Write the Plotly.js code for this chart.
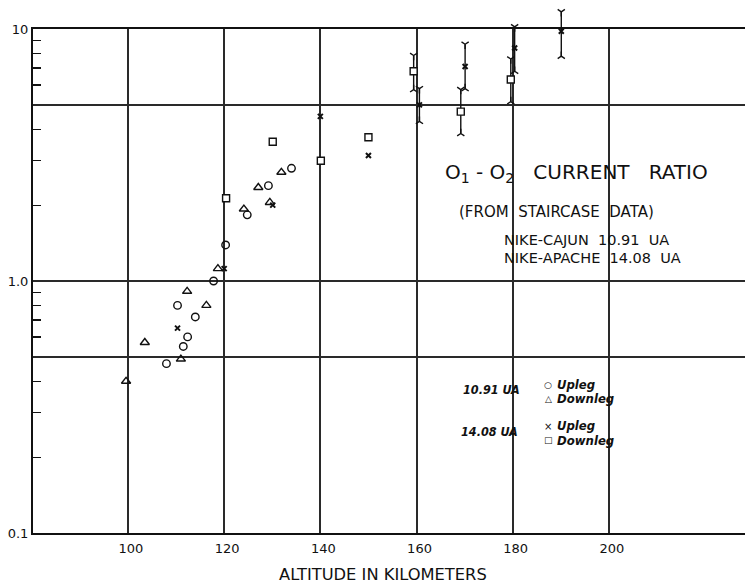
<!DOCTYPE html>
<html><head><meta charset="utf-8">
<script src="https://cdn.plot.ly/plotly-3.0.1.min.js"></script>
<style>body{margin:0;background:#fff}</style>
</head><body>
<div id="chart" style="width:748px;height:585px"></div>
<script>
// 10.91 UA (Nike-Cajun)
const cajunUpX   = [108, 110.3, 111.5, 112.4, 114, 117.8, 120.3, 124.8, 129.2, 134];
const cajunUpY   = [0.47, 0.80, 0.55, 0.60, 0.72, 1.0, 1.39, 1.83, 2.39, 2.80];
const cajunDownX = [99.6, 103.5, 111, 112.3, 116.3, 118.7, 124.1, 127.1, 129.5, 131.9];
const cajunDownY = [0.40, 0.57, 0.49, 0.91, 0.80, 1.12, 1.93, 2.35, 2.05, 2.70];
// 14.08 UA (Nike-Apache)
const apacheUpX    = [110.3, 120, 130.1, 140, 150, 160.6, 170.1, 180.4, 190.1];
const apacheUpY    = [0.65, 1.12, 2.0, 4.5, 3.15, 5.0, 7.1, 8.4, 9.8];
const apacheUpHigh = [null, null, null, null, null, 5.8, 8.7, 10.2, 11.7];
const apacheUpLow  = [null, null, null, null, null, 4.3, 5.8, 6.8, 7.8];
const apacheDownX    = [120.4, 130.1, 140.1, 150, 159.4, 169.2, 179.6];
const apacheDownY    = [2.13, 3.57, 3.0, 3.72, 6.8, 4.7, 6.3];
const apacheDownHigh = [null, null, null, null, 7.85, 5.75, 7.6];
const apacheDownLow  = [null, null, null, null, 5.75, 3.85, 5.15];

const xTicks = [100, 120, 140, 160, 180, 200];
const yGrid = [0.1, 0.5, 1, 5, 10];
const yGridText = ['0.1', '', '1.0', '', '10'];
const yMinor = [0.2, 0.3, 0.4, 0.6, 0.7, 0.8, 0.9, 2, 3, 4, 6, 7, 8, 9];

const FONT = '"DejaVu Sans", "Liberation Sans", sans-serif';
const FONT_C = '"DejaVu Sans Condensed", "DejaVu Sans", sans-serif';
const INK = '#111';
const GRID = '#2a2a2a';

// plot geometry: main axis spans 0.1..10; the overlay axis extends the same scale upward
const TOP_M = 10, PLOT_H = 585 - TOP_M - 52, MAIN_H = 504;
const yMainDomTop = MAIN_H / PLOT_H;
const y2Top = -1 + 2 * PLOT_H / MAIN_H;
const xRange = [80.25, 228.3];

function errPlus(y, hi) { return hi.map((h, i) => h == null ? 0 : h - y[i]); }
function errMinus(y, lo) { return lo.map((l, i) => l == null ? 0 : y[i] - l); }

function errTrace(x, y, hi, lo) {
  return {x: x, y: y, xaxis: 'x2', yaxis: 'y2', type: 'scatter', mode: 'none', showlegend: false,
    hoverinfo: 'skip',
    error_y: {type: 'data', symmetric: false, array: errPlus(y, hi), arrayminus: errMinus(y, lo),
      width: 0, thickness: 1.4, color: INK}};
}
function capTrace(x, v, sym) {
  return {x: x, y: v, xaxis: 'x2', yaxis: 'y2', type: 'scatter', mode: 'markers', showlegend: false,
    hoverinfo: 'skip', cliponaxis: false,
    marker: {symbol: sym, size: 6, color: INK, line: {color: INK, width: 1.4}}};
}

const traces = [
  {x: cajunUpX, y: cajunUpY, type: 'scatter', mode: 'markers', name: '10.91 UA Upleg',
    marker: {symbol: 'circle-open', size: 7.5, color: INK, line: {color: INK, width: 1.4}}},
  {x: cajunDownX, y: cajunDownY, type: 'scatter', mode: 'markers', name: '10.91 UA Downleg',
    marker: {symbol: 'triangle-up-open', size: 8, color: INK, line: {color: INK, width: 1.4}}},
  errTrace(apacheUpX, apacheUpY, apacheUpHigh, apacheUpLow),
  errTrace(apacheDownX, apacheDownY, apacheDownHigh, apacheDownLow),
  capTrace(apacheUpX, apacheUpHigh, 'y-down-open'),
  capTrace(apacheUpX, apacheUpLow, 'y-up-open'),
  capTrace(apacheDownX, apacheDownHigh, 'y-down-open'),
  capTrace(apacheDownX, apacheDownLow, 'y-up-open'),
  {x: apacheUpX, y: apacheUpY, xaxis: 'x2', yaxis: 'y2', type: 'scatter', mode: 'markers',
    name: '14.08 UA Upleg', cliponaxis: false,
    marker: {symbol: 'x-thin-open', size: 5, color: INK, line: {color: INK, width: 2}}},
  {x: apacheDownX, y: apacheDownY, xaxis: 'x2', yaxis: 'y2', type: 'scatter', mode: 'markers',
    name: '14.08 UA Downleg', cliponaxis: false,
    marker: {symbol: 'square', size: 7, color: '#fff', line: {color: INK, width: 1.4}}}
];

function ann(text, x, y, size, xanchor, family) {
  return {text: text, x: x, y: y, xref: 'paper', yref: 'paper', showarrow: false,
    xanchor: xanchor || 'center', yanchor: 'middle',
    font: {family: family || FONT, size: size, color: INK}};
}

// paper coords refer to the full plotting area (t=10 .. b=533)
function py(pix) { return (533 - pix) / PLOT_H; }
function px(pix) { return (pix - 33) / 712; }

const annotations = [
  ann('O<sub>1</sub> - O<sub>2</sub>   CURRENT   RATIO', px(576), py(173), 20, 'center'),
  ann('(FROM  STAIRCASE  DATA)', px(556.5), py(212), 15, 'center'),
  ann('NIKE-CAJUN  10.91  UA', px(502), py(240), 14.5, 'left'),
  ann('NIKE-APACHE  14.08  UA', px(502), py(258), 14.5, 'left'),
  ann('<b><i>10.91 UA</i></b>', px(522), py(389), 12.5, 'right', FONT_C),
  ann('○', px(548), py(385), 9, 'center'),
  ann('<b><i>Upleg</i></b>', px(555), py(384), 13, 'left', FONT_C),
  ann('△', px(548), py(399), 9, 'center'),
  ann('<b><i>Downleg</i></b>', px(555), py(398), 13, 'left', FONT_C),
  ann('<b><i>14.08 UA</i></b>', px(520), py(431.7), 12.5, 'right', FONT_C),
  ann('×', px(548), py(426.5), 10, 'center'),
  ann('<b><i>Upleg</i></b>', px(555), py(425), 13, 'left', FONT_C),
  ann('□', px(548), py(440), 9, 'center'),
  ann('<b><i>Downleg</i></b>', px(555), py(440), 13, 'left', FONT_C),
  {text: 'ALTITUDE IN KILOMETERS', x: px(383), y: 574.5, xref: 'paper', yref: 'paper',
    showarrow: false, xanchor: 'center', yanchor: 'middle',
    font: {family: FONT, size: 16.3, color: INK}}
];
// x-axis title sits below the plot: convert its pixel row to paper coords
annotations[annotations.length - 1].y = py(574.5);

const layout = {
  width: 748, height: 585,
  margin: {l: 33, r: 3, t: TOP_M, b: 52},
  paper_bgcolor: '#fff', plot_bgcolor: 'rgba(0,0,0,0)',
  showlegend: false,
  font: {family: FONT, color: INK, size: 13},
  xaxis: {
    range: xRange, domain: [0, 1], anchor: 'y', tickmode: 'array', tickvals: xTicks,
    ticktext: xTicks.map(String),
    showgrid: true, gridcolor: GRID, gridwidth: 2, zeroline: false,
    showline: true, linecolor: INK, linewidth: 2, mirror: true,
    ticks: '', ticklabelshift: 3, ticklabelstandoff: 2,
    tickfont: {family: FONT, size: 13, color: INK}
  },
  yaxis: {
    type: 'log', range: [-1, 1], domain: [0, yMainDomTop], anchor: 'x',
    tickmode: 'array', tickvals: yGrid, ticktext: yGridText,
    showgrid: true, gridcolor: GRID, gridwidth: 2, zeroline: false,
    showline: true, linecolor: INK, linewidth: 2, ticks: '',
    tickfont: {family: FONT, size: 13, color: INK},
    minor: {tickmode: 'array', tickvals: yMinor, ticks: 'inside', ticklen: 8, tickwidth: 1.2,
      tickcolor: INK, showgrid: false}
  },
  xaxis2: {range: xRange, domain: [0, 1], anchor: 'y2', visible: false, showgrid: false, zeroline: false},
  yaxis2: {type: 'log', range: [-1, y2Top], domain: [0, 1], anchor: 'x2', visible: false,
    showgrid: false, zeroline: false},
  annotations: annotations
};

Plotly.newPlot('chart', traces, layout, {staticPlot: true, displayModeBar: false});
</script>
</body></html>
